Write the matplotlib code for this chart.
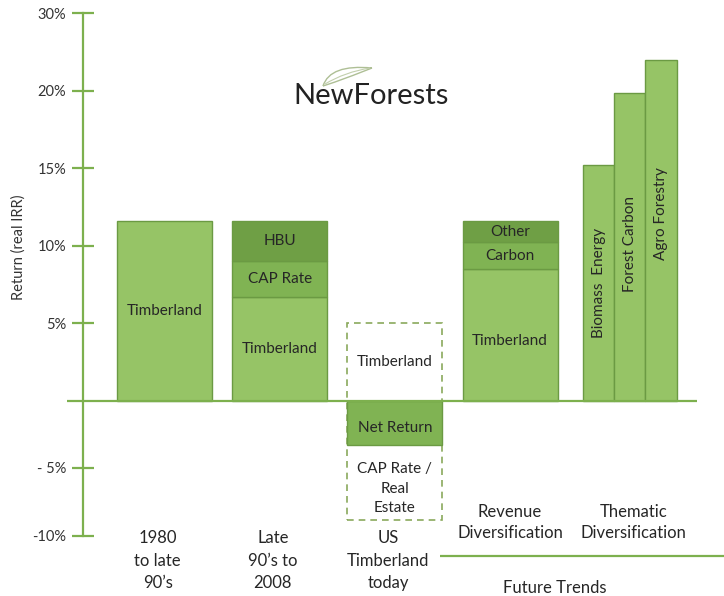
import matplotlib
matplotlib.use("Agg")
import matplotlib.pyplot as plt
from matplotlib.path import Path
from matplotlib.patches import PathPatch

plt.rcParams['font.family'] = ['Lato', 'DejaVu Sans']

# returns in % (real IRR)
period_labels = ['1980\nto late\n90\u2019s', 'Late\n90\u2019s to\n2008', 'US\nTimberland\ntoday']
trend_labels = ['Revenue\nDiversification', 'Thematic\nDiversification']

early_timberland = 11.6

late90s_parts = ['Timberland', 'CAP Rate', 'HBU']
late90s_vals = [6.7, 2.35, 2.55]

us_gross = 5.0          # Timberland (dashed, not realised)
us_net = -2.85          # Net Return
us_cap_drag = -4.85     # CAP Rate / Real Estate (dashed)

rev_parts = ['Timberland', 'Carbon', 'Other']
rev_vals = [8.5, 1.75, 1.35]

thematic_names = ['Biomass  Energy', 'Forest Carbon', 'Agro Forestry']
thematic_vals = [15.2, 19.9, 22.0]

ytick_vals = [25, 20, 15, 10, 5, -4.3, -8.7]
ytick_labels = ['30%', '20%', '15%', '10%', '5%', '- 5%', '-10%']

# colours
light = '#96c466'
mid = '#80b353'
dark = '#6f9f45'
edge = '#6b9a43'
axis_green = '#7db04e'
txt = '#262626'

fig = plt.figure(figsize=(7.24, 5.96), dpi=100)
ax = fig.add_axes([0, 0, 1, 1])
ax.set_xlim(-1.428, 4.857)
ax.set_ylim(-12.58, 25.87)

w = 0.825
fs = 11

# 1980 to late 90's
ax.bar(0, early_timberland, width=w, color=light, edgecolor=edge, linewidth=1)
ax.text(0, early_timberland / 2, 'Timberland', ha='center', va='center', fontsize=fs, color=txt)

# late 90's to 2008 (stacked)
shades = [light, mid, dark]
bottom = 0
for name, v, c in zip(late90s_parts, late90s_vals, shades):
    ax.bar(1, v, bottom=bottom, width=w, color=c, edgecolor=edge, linewidth=1)
    ax.text(1, bottom + v / 2, name, ha='center', va='center', fontsize=fs, color=txt)
    bottom += v

# US timberland today
ax.bar(2, us_gross - (us_net + us_cap_drag), bottom=us_net + us_cap_drag, width=w,
       fill=False, edgecolor='#8aa95c', linestyle=(0, (4, 3)), linewidth=1.2)
ax.bar(2, us_net, width=w, color=mid, edgecolor=edge, linewidth=1)
ax.text(2, us_gross / 2, 'Timberland', ha='center', va='center', fontsize=fs, color=txt)
ax.text(2, us_net / 2 - 0.3, 'Net Return', ha='center', va='center', fontsize=fs, color=txt)
ax.text(2, us_net + us_cap_drag / 2 - 0.4, 'CAP Rate /\nReal\nEstate', ha='center', va='center',
        fontsize=fs, color=txt, linespacing=1.5)

# revenue diversification (stacked)
bottom = 0
for name, v, c in zip(rev_parts, rev_vals, shades):
    ax.bar(3, v, bottom=bottom, width=w, color=c, edgecolor=edge, linewidth=1)
    ax.text(3, bottom + v / 2 - (0.4 if bottom == 0 else 0), name, ha='center', va='center',
            fontsize=fs, color=txt)
    bottom += v

# thematic diversification
tw = 0.27
for i, (name, v) in enumerate(zip(thematic_names, thematic_vals)):
    x = 4.04 + (i - 1) * tw
    ax.bar(x, v, width=tw, color=light, edgecolor=edge, linewidth=1)
    ax.text(x, v / 2 + [0, 0.15, 1.1][i], name, ha='center', va='center', rotation=90,
            fontsize=fs, color=txt)

# zero line
ax.hlines(0, -0.846, 4.622, color=axis_green, linewidth=1.6)

# y axis
for s in ['top', 'right', 'bottom']:
    ax.spines[s].set_visible(False)
ax.spines['left'].set_position(('data', -0.707))
ax.spines['left'].set_bounds(ytick_vals[-1], ytick_vals[0])
ax.spines['left'].set_color(axis_green)
ax.spines['left'].set_linewidth(1.6)
ax.set_xticks([])
ax.set_yticks(ytick_vals, ytick_labels)
ax.tick_params(axis='y', direction='inout', length=16, width=1.6, color=axis_green,
               labelsize=10.5, labelcolor='#333333', pad=4)
ax.patch.set_visible(False)

fig.text(19 / 724, 1 - 247 / 596, 'Return (real IRR)', rotation=90, ha='center', va='center',
         fontsize=10.5, color='#333333')

# category labels
for i, lab in enumerate(period_labels):
    ax.text(i - 0.06, -10.3, lab, ha='center', va='center', fontsize=12, color=txt,
            linespacing=1.5)
ax.text(3, -7.84, trend_labels[0], ha='center', va='center', fontsize=12, color=txt, linespacing=1.42)
ax.text(4.07, -7.84, trend_labels[1], ha='center', va='center', fontsize=12, color=txt, linespacing=1.42)
ax.hlines(-10.0, 2.39, 4.857, color=axis_green, linewidth=1.6)
ax.text(3.39, -12.06, 'Future Trends', ha='center', va='center', fontsize=12, color=txt)

# logo
fig.text(371 / 724, 1 - 96 / 596, 'NewForests', ha='center', va='center', fontsize=21,
         fontweight='normal', color='#222222')
def px(x, y):
    return (x / 724, 1 - y / 596)
leaf = Path([px(323, 86), px(330, 64), px(372, 68), px(372, 68), px(352, 76), px(335, 82), px(323, 86)],
            [Path.MOVETO, Path.CURVE3, Path.CURVE3, Path.MOVETO, Path.CURVE3, Path.CURVE3, Path.LINETO])
fig.add_artist(PathPatch(leaf, transform=fig.transFigure, fill=False, edgecolor='#aebf95', linewidth=1))
rib = Path([px(325, 84), px(345, 72), px(370, 68)], [Path.MOVETO, Path.CURVE3, Path.CURVE3])
fig.add_artist(PathPatch(rib, transform=fig.transFigure, fill=False, edgecolor='#c2cfad', linewidth=0.8))

fig.savefig('out.png', dpi=100)
